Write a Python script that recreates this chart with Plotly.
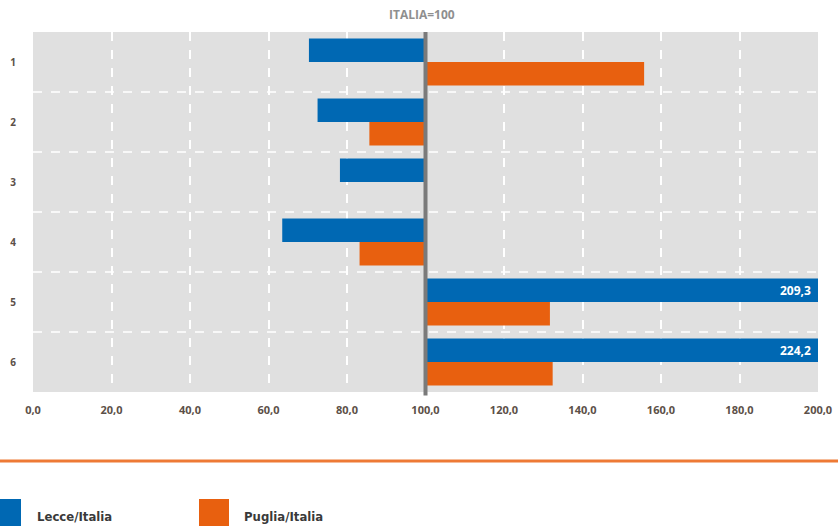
import plotly.graph_objects as go

categories = [1, 2, 3, 4, 5, 6]
lecce = [70.3, 72.5, 78.2, 63.5, 209.3, 224.2]
puglia = [155.7, 85.7, None, 83.2, 131.7, 132.4]
series_names = ["Lecce/Italia", "Puglia/Italia"]
base_value = 100
x_ticks = [0, 20, 40, 60, 80, 100, 120, 140, 160, 180, 200]
title_text = "ITALIA=100"

BLUE = "#0068b3"
ORANGE = "#e8600f"

W, H = 838, 526
L, R, T, B = 33, 20, 32, 134
PW = W - L - R
PH = H - T - B


def px_x(px):
    return (px - L) / PW


def px_y(py):
    return (H - B - py) / PH


def rel(vals):
    return [None if v is None else v - base_value for v in vals]


fig = go.Figure()
fig.add_trace(go.Bar(y=categories, x=rel(lecce), base=base_value, orientation="h",
                     name=series_names[0], marker=dict(color=BLUE, line=dict(width=0))))
fig.add_trace(go.Bar(y=categories, x=rel(puglia), base=base_value, orientation="h",
                     name=series_names[1], marker=dict(color=ORANGE, line=dict(width=0))))

shapes = []
for c in categories[:-1]:
    shapes.append(dict(type="line", xref="paper", x0=0, x1=1, yref="y", y0=c + 0.5, y1=c + 0.5,
                       line=dict(color="white", width=1.5, dash="dash"), layer="below"))
shapes.append(dict(type="line", xref="x", x0=base_value, x1=base_value, yref="paper", y0=-0.01, y1=1,
                   line=dict(color="#7a7a7a", width=4)))
shapes.append(dict(type="line", xref="paper", x0=px_x(0), x1=px_x(W), yref="paper",
                   y0=px_y(461), y1=px_y(461), line=dict(color="#ee7a35", width=3)))
shapes.append(dict(type="rect", xref="paper", yref="paper", x0=px_x(-2), x1=px_x(21),
                   y0=px_y(499), y1=px_y(530), fillcolor=BLUE, line=dict(width=0)))
shapes.append(dict(type="rect", xref="paper", yref="paper", x0=px_x(199), x1=px_x(229),
                   y0=px_y(499), y1=px_y(530), fillcolor=ORANGE, line=dict(width=0)))

annotations = []
annotations.append(dict(text=title_text, xref="paper", yref="paper", x=px_x(422), y=px_y(15),
                        showarrow=False, xanchor="center", yanchor="middle",
                        font=dict(family="Open Sans", size=12, color="#8f8f8f", weight=700)))
legend_font = dict(family="Liberation Sans Narrow, DejaVu Sans Condensed, Roboto", size=13,
                   color="#3a3a3a", weight=700)
annotations.append(dict(text=series_names[0], xref="paper", yref="paper", x=px_x(35), y=px_y(516),
                        showarrow=False, xanchor="left", yanchor="middle", font=legend_font))
annotations.append(dict(text=series_names[1], xref="paper", yref="paper", x=px_x(242), y=px_y(516),
                        showarrow=False, xanchor="left", yanchor="middle", font=legend_font))
xmax = x_ticks[-1]
for c, v in zip(categories, lecce):
    if v is not None and v > xmax:
        annotations.append(dict(text=f"{v:.1f}".replace(".", ","), xref="x", yref="y",
                                x=xmax, y=c - 0.195, xanchor="right", yanchor="middle",
                                xshift=-5, showarrow=False,
                                font=dict(family="Open Sans", size=12, color="white", weight=700)))

tick_font = dict(family="Open Sans", size=11, color="#5c5048", weight=700)

fig.update_layout(
    width=W, height=H,
    margin=dict(l=L, r=R, t=T, b=B, autoexpand=False),
    paper_bgcolor="white", plot_bgcolor="#e0e0e0",
    barmode="group", bargap=0.22, bargroupgap=0,
    showlegend=False,
    separators=",.",
    shapes=shapes, annotations=annotations,
    xaxis=dict(range=[x_ticks[0], x_ticks[-1]], tickvals=x_ticks, tickformat=".1f",
               showgrid=True, gridcolor="white", gridwidth=1.5, griddash="dash",
               zeroline=False, showline=False, ticks="", tickfont=tick_font,
               ticklabelstandoff=10, automargin=False),
    yaxis=dict(range=[6.5, 0.5], tickvals=categories, showgrid=False, zeroline=False,
               showline=False, ticks="", tickfont=dict(family="Open Sans", size=10, color="#5c5048", weight=700),
               ticklabelstandoff=16, automargin=False),
)

fig.write_html("out.html", config={"displayModeBar": False},
               post_script="document.body.style.margin='0';")
